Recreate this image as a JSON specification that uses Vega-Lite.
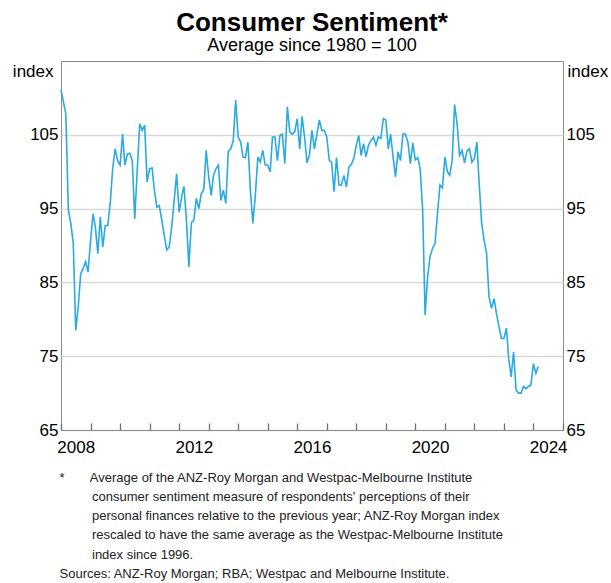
{
  "$schema": "https://vega.github.io/schema/vega-lite/v6.json",
  "autosize": {"type": "none"},
  "width": 502,
  "height": 369,
  "padding": {"left": 61, "top": 61, "right": 48, "bottom": 153},
  "background": "white",
  "config": {
    "font": "Liberation Sans",
    "view": {"stroke": "#8c8c8c", "strokeWidth": 1}
  },
  "title": {
    "text": "Consumer Sentiment*",
    "subtitle": "Average since 1980 = 100",
    "anchor": "middle",
    "frame": "group",
    "font": "Liberation Sans",
    "fontSize": 26,
    "fontWeight": "bold",
    "color": "#000000",
    "subtitleFont": "Liberation Sans",
    "subtitleFontSize": 18,
    "subtitleColor": "#000000",
    "subtitlePadding": 1,
    "offset": 6
  },
  "data": {
    "values": [
      {"date": "2008-01-01", "index": 111.1},
      {"date": "2008-03-01", "index": 107.8},
      {"date": "2008-04-01", "index": 94.8},
      {"date": "2008-05-01", "index": 93.0},
      {"date": "2008-06-01", "index": 90.3},
      {"date": "2008-07-01", "index": 78.5},
      {"date": "2008-08-01", "index": 81.7},
      {"date": "2008-09-01", "index": 86.2},
      {"date": "2008-10-01", "index": 86.9},
      {"date": "2008-11-01", "index": 87.8},
      {"date": "2008-12-01", "index": 86.4},
      {"date": "2009-01-01", "index": 90.7},
      {"date": "2009-02-01", "index": 94.3},
      {"date": "2009-03-01", "index": 92.5},
      {"date": "2009-04-01", "index": 88.9},
      {"date": "2009-05-01", "index": 93.9},
      {"date": "2009-06-01", "index": 89.8},
      {"date": "2009-07-01", "index": 92.7},
      {"date": "2009-08-01", "index": 92.7},
      {"date": "2009-09-01", "index": 95.7},
      {"date": "2009-10-01", "index": 100.4},
      {"date": "2009-11-01", "index": 103.1},
      {"date": "2009-12-01", "index": 101.5},
      {"date": "2010-01-01", "index": 100.9},
      {"date": "2010-02-01", "index": 105.1},
      {"date": "2010-03-01", "index": 100.9},
      {"date": "2010-04-01", "index": 102.4},
      {"date": "2010-05-01", "index": 102.5},
      {"date": "2010-06-01", "index": 101.5},
      {"date": "2010-07-01", "index": 93.6},
      {"date": "2010-08-01", "index": 100.2},
      {"date": "2010-09-01", "index": 106.5},
      {"date": "2010-10-01", "index": 105.6},
      {"date": "2010-11-01", "index": 106.3},
      {"date": "2010-12-01", "index": 98.6},
      {"date": "2011-01-01", "index": 100.4},
      {"date": "2011-02-01", "index": 100.5},
      {"date": "2011-03-01", "index": 97.5},
      {"date": "2011-04-01", "index": 95.2},
      {"date": "2011-05-01", "index": 95.4},
      {"date": "2011-06-01", "index": 93.4},
      {"date": "2011-07-01", "index": 91.4},
      {"date": "2011-08-01", "index": 89.4},
      {"date": "2011-09-01", "index": 89.8},
      {"date": "2011-10-01", "index": 92.5},
      {"date": "2011-11-01", "index": 96.1},
      {"date": "2011-12-01", "index": 99.7},
      {"date": "2012-01-01", "index": 94.5},
      {"date": "2012-02-01", "index": 96.6},
      {"date": "2012-03-01", "index": 98.0},
      {"date": "2012-04-01", "index": 93.4},
      {"date": "2012-05-01", "index": 87.1},
      {"date": "2012-06-01", "index": 93.1},
      {"date": "2012-07-01", "index": 93.4},
      {"date": "2012-08-01", "index": 96.4},
      {"date": "2012-09-01", "index": 95.0},
      {"date": "2012-10-01", "index": 97.0},
      {"date": "2012-11-01", "index": 97.6},
      {"date": "2012-12-01", "index": 102.9},
      {"date": "2013-01-01", "index": 99.3},
      {"date": "2013-02-01", "index": 96.8},
      {"date": "2013-03-01", "index": 99.5},
      {"date": "2013-04-01", "index": 100.4},
      {"date": "2013-05-01", "index": 100.9},
      {"date": "2013-06-01", "index": 96.1},
      {"date": "2013-07-01", "index": 97.5},
      {"date": "2013-08-01", "index": 95.7},
      {"date": "2013-09-01", "index": 102.8},
      {"date": "2013-10-01", "index": 103.1},
      {"date": "2013-11-01", "index": 104.2},
      {"date": "2013-12-01", "index": 109.7},
      {"date": "2014-01-01", "index": 104.7},
      {"date": "2014-02-01", "index": 104.0},
      {"date": "2014-03-01", "index": 102.0},
      {"date": "2014-04-01", "index": 101.9},
      {"date": "2014-05-01", "index": 104.0},
      {"date": "2014-06-01", "index": 97.5},
      {"date": "2014-07-01", "index": 93.0},
      {"date": "2014-08-01", "index": 96.8},
      {"date": "2014-09-01", "index": 102.0},
      {"date": "2014-10-01", "index": 101.3},
      {"date": "2014-11-01", "index": 102.9},
      {"date": "2014-12-01", "index": 100.9},
      {"date": "2015-01-01", "index": 100.9},
      {"date": "2015-02-01", "index": 100.0},
      {"date": "2015-03-01", "index": 104.7},
      {"date": "2015-04-01", "index": 104.7},
      {"date": "2015-05-01", "index": 101.5},
      {"date": "2015-06-01", "index": 104.9},
      {"date": "2015-07-01", "index": 105.1},
      {"date": "2015-08-01", "index": 101.1},
      {"date": "2015-09-01", "index": 108.8},
      {"date": "2015-10-01", "index": 105.4},
      {"date": "2015-11-01", "index": 105.1},
      {"date": "2015-12-01", "index": 105.4},
      {"date": "2016-01-01", "index": 107.2},
      {"date": "2016-02-01", "index": 103.1},
      {"date": "2016-03-01", "index": 107.5},
      {"date": "2016-04-01", "index": 104.7},
      {"date": "2016-05-01", "index": 101.2},
      {"date": "2016-06-01", "index": 102.3},
      {"date": "2016-07-01", "index": 105.6},
      {"date": "2016-08-01", "index": 103.1},
      {"date": "2016-09-01", "index": 105.1},
      {"date": "2016-10-01", "index": 107.0},
      {"date": "2016-11-01", "index": 105.6},
      {"date": "2016-12-01", "index": 105.6},
      {"date": "2017-01-01", "index": 104.7},
      {"date": "2017-02-01", "index": 101.5},
      {"date": "2017-03-01", "index": 101.3},
      {"date": "2017-04-01", "index": 97.3},
      {"date": "2017-05-01", "index": 101.9},
      {"date": "2017-06-01", "index": 98.2},
      {"date": "2017-07-01", "index": 98.2},
      {"date": "2017-08-01", "index": 99.5},
      {"date": "2017-09-01", "index": 97.9},
      {"date": "2017-10-01", "index": 100.6},
      {"date": "2017-11-01", "index": 101.0},
      {"date": "2017-12-01", "index": 101.8},
      {"date": "2018-01-01", "index": 103.6},
      {"date": "2018-02-01", "index": 104.9},
      {"date": "2018-03-01", "index": 102.2},
      {"date": "2018-04-01", "index": 103.8},
      {"date": "2018-05-01", "index": 102.0},
      {"date": "2018-06-01", "index": 103.6},
      {"date": "2018-07-01", "index": 104.2},
      {"date": "2018-08-01", "index": 104.7},
      {"date": "2018-09-01", "index": 103.6},
      {"date": "2018-10-01", "index": 104.7},
      {"date": "2018-11-01", "index": 104.5},
      {"date": "2018-12-01", "index": 107.2},
      {"date": "2019-01-01", "index": 107.0},
      {"date": "2019-02-01", "index": 103.1},
      {"date": "2019-03-01", "index": 105.1},
      {"date": "2019-04-01", "index": 102.0},
      {"date": "2019-05-01", "index": 99.3},
      {"date": "2019-06-01", "index": 102.7},
      {"date": "2019-07-01", "index": 101.5},
      {"date": "2019-08-01", "index": 105.1},
      {"date": "2019-09-01", "index": 105.1},
      {"date": "2019-10-01", "index": 104.0},
      {"date": "2019-11-01", "index": 101.1},
      {"date": "2019-12-01", "index": 103.9},
      {"date": "2020-01-01", "index": 101.6},
      {"date": "2020-02-01", "index": 101.9},
      {"date": "2020-03-01", "index": 100.4},
      {"date": "2020-04-01", "index": 94.8},
      {"date": "2020-05-01", "index": 80.6},
      {"date": "2020-06-01", "index": 85.7},
      {"date": "2020-07-01", "index": 88.5},
      {"date": "2020-08-01", "index": 89.6},
      {"date": "2020-09-01", "index": 90.3},
      {"date": "2020-10-01", "index": 94.3},
      {"date": "2020-11-01", "index": 98.2},
      {"date": "2020-12-01", "index": 97.8},
      {"date": "2021-01-01", "index": 102.0},
      {"date": "2021-02-01", "index": 100.0},
      {"date": "2021-03-01", "index": 99.5},
      {"date": "2021-04-01", "index": 101.5},
      {"date": "2021-05-01", "index": 109.1},
      {"date": "2021-06-01", "index": 106.5},
      {"date": "2021-07-01", "index": 102.2},
      {"date": "2021-08-01", "index": 102.9},
      {"date": "2021-09-01", "index": 101.2},
      {"date": "2021-10-01", "index": 102.8},
      {"date": "2021-11-01", "index": 103.1},
      {"date": "2021-12-01", "index": 101.3},
      {"date": "2022-01-01", "index": 101.8},
      {"date": "2022-02-01", "index": 104.0},
      {"date": "2022-03-01", "index": 98.4},
      {"date": "2022-04-01", "index": 93.0},
      {"date": "2022-05-01", "index": 90.7},
      {"date": "2022-06-01", "index": 88.9},
      {"date": "2022-07-01", "index": 83.0},
      {"date": "2022-08-01", "index": 81.5},
      {"date": "2022-09-01", "index": 82.8},
      {"date": "2022-10-01", "index": 80.8},
      {"date": "2022-11-01", "index": 79.0},
      {"date": "2022-12-01", "index": 77.4},
      {"date": "2023-01-01", "index": 77.4},
      {"date": "2023-02-01", "index": 78.8},
      {"date": "2023-03-01", "index": 74.7},
      {"date": "2023-04-01", "index": 72.2},
      {"date": "2023-05-01", "index": 75.6},
      {"date": "2023-06-01", "index": 70.4},
      {"date": "2023-07-01", "index": 70.0},
      {"date": "2023-08-01", "index": 70.0},
      {"date": "2023-09-01", "index": 70.9},
      {"date": "2023-10-01", "index": 70.6},
      {"date": "2023-11-01", "index": 70.9},
      {"date": "2023-12-01", "index": 71.1},
      {"date": "2024-01-01", "index": 74.0},
      {"date": "2024-02-01", "index": 72.7},
      {"date": "2024-03-01", "index": 73.6}
    ]
  },
  "encoding": {
    "x": {
      "field": "date",
      "type": "temporal",
      "scale": {
        "type": "utc",
        "domain": [
          {"year": 2008, "month": 1, "date": 1, "utc": true},
          {"year": 2025, "month": 1, "date": 1, "utc": true}
        ],
        "nice": false
      },
      "axis": {
        "tickCount": {"interval": "year", "step": 1},
        "labelExpr": "(utcyear(datum.value) % 4 == 0 && utcyear(datum.value) < 2025) ? ('' + utcyear(datum.value)) : ''",
        "labelOffset": 14.75,
        "labelFlush": false,
        "labelOverlap": false,
        "labelFont": "Liberation Sans",
        "labelFontSize": 17,
        "labelColor": "#000000",
        "labelPadding": 16,
        "ticks": true,
        "tickSize": -7,
        "tickColor": "#707070",
        "tickWidth": 1.3,
        "domain": true,
        "domainColor": "#8c8c8c",
        "domainWidth": 1,
        "grid": false,
        "title": [
          "*\u00a0\u00a0\u00a0\u00a0\u00a0\u00a0\u00a0Average of the ANZ-Roy Morgan and Westpac-Melbourne Institute",
          "\u200b\u00a0\u00a0\u00a0\u00a0\u00a0\u00a0\u00a0\u00a0\u00a0consumer sentiment measure of respondents' perceptions of their",
          "\u200b\u00a0\u00a0\u00a0\u00a0\u00a0\u00a0\u00a0\u00a0\u00a0personal finances relative to the previous year; ANZ-Roy Morgan index",
          "\u200b\u00a0\u00a0\u00a0\u00a0\u00a0\u00a0\u00a0\u00a0\u00a0rescaled to have the same average as the Westpac-Melbourne Institute",
          "\u200b\u00a0\u00a0\u00a0\u00a0\u00a0\u00a0\u00a0\u00a0\u00a0index since 1996.",
          "Sources: ANZ-Roy Morgan; RBA; Westpac and Melbourne Institute."
        ],
        "titleFont": "Liberation Sans",
        "titleFontSize": 13,
        "titleFontWeight": "normal",
        "titleColor": "#222222",
        "titleAnchor": "start",
        "titleAlign": "left",
        "titleBaseline": "top",
        "titleX": -2,
        "titleY": 41,
        "titleLineHeight": 19.3
      }
    }
  },
  "layer": [
    {
      "mark": {"type": "line", "color": "#29abe2", "strokeWidth": 1.6, "interpolate": "linear"},
      "encoding": {
        "y": {
          "field": "index",
          "type": "quantitative",
          "scale": {"domain": [65, 115], "nice": false, "zero": false},
          "axis": {
            "values": [65, 75, 85, 95, 105],
            "ticks": false,
            "domain": false,
            "grid": true,
            "gridColor": "#d9d9d9",
            "gridWidth": 1.5,
            "labelFont": "Liberation Sans",
            "labelFontSize": 17,
            "labelColor": "#000000",
            "labelPadding": 3,
            "title": "index",
            "titleAngle": 0,
            "titleX": -8,
            "titleY": 10,
            "titleAlign": "right",
            "titleBaseline": "middle",
            "titleFont": "Liberation Sans",
            "titleFontSize": 17,
            "titleFontWeight": "normal",
            "titleColor": "#000000"
          }
        }
      }
    },
    {
      "mark": {"type": "line", "opacity": 0},
      "encoding": {
        "y": {
          "field": "index",
          "type": "quantitative",
          "scale": {"domain": [65, 115], "nice": false, "zero": false},
          "axis": {
            "orient": "right",
            "values": [65, 75, 85, 95, 105],
            "ticks": false,
            "domain": false,
            "grid": false,
            "labelFont": "Liberation Sans",
            "labelFontSize": 17,
            "labelColor": "#000000",
            "labelPadding": 3,
            "title": "index",
            "titleAngle": 0,
            "titleX": 4,
            "titleY": 10,
            "titleAlign": "left",
            "titleBaseline": "middle",
            "titleFont": "Liberation Sans",
            "titleFontSize": 17,
            "titleFontWeight": "normal",
            "titleColor": "#000000"
          }
        }
      }
    }
  ],
  "resolve": {"scale": {"y": "independent"}}
}
